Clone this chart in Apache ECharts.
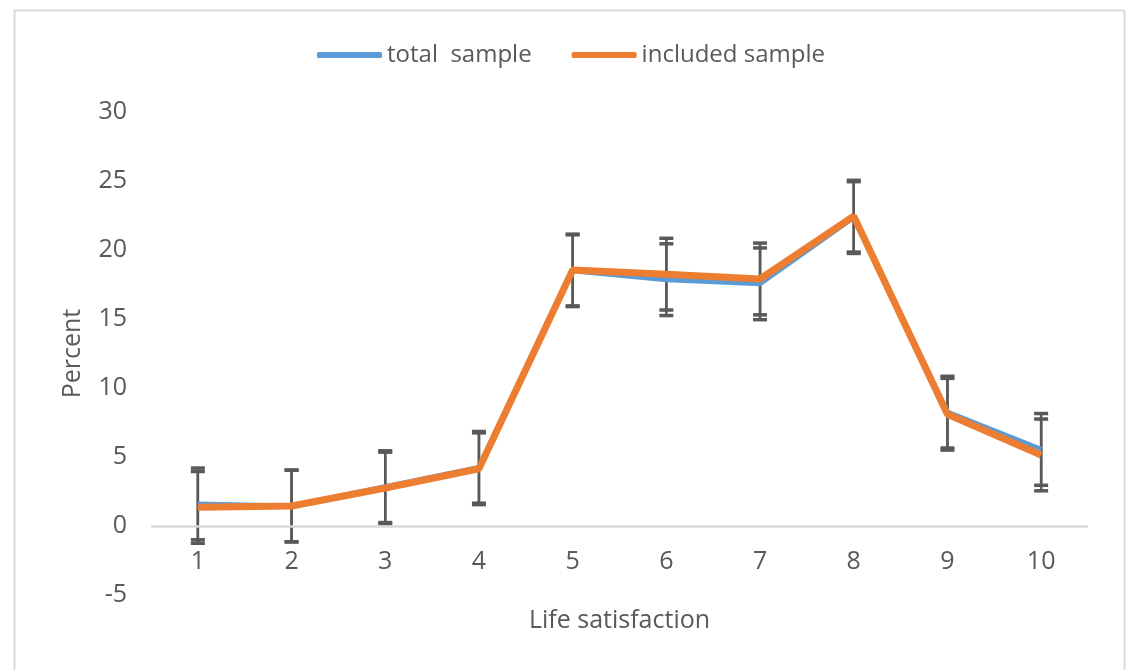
<!DOCTYPE html>
<html>
<head>
<meta charset="utf-8">
<script src="https://cdn.jsdelivr.net/npm/echarts@6/dist/echarts.min.js"></script>
<style>html,body{margin:0;padding:0;background:#fff}#c{width:1127px;height:670px}</style>
</head>
<body>
<div id="c"></div>
<script>
const categories = ['1','2','3','4','5','6','7','8','9','10'];
const totalSample = [1.6, 1.45, 2.85, 4.25, 18.5, 17.85, 17.55, 22.35, 8.25, 5.55];
const includedSample = [1.35, 1.45, 2.75, 4.15, 18.55, 18.25, 17.9, 22.45, 8.1, 5.15];
const totalErr = [2.6, 2.6, 2.6, 2.6, 2.6, 2.6, 2.6, 2.6, 2.6, 2.6];
const includedErr = [2.6, 2.6, 2.6, 2.6, 2.6, 2.6, 2.6, 2.6, 2.6, 2.6];
const yTicks = [-5, 0, 5, 10, 15, 20, 25, 30];

const FONT = 'Open Sans';
const TXT = '#595959';

function errData(vals, errs) {
  return vals.map((v, i) => [i, v - errs[i], v + errs[i]]);
}
function renderErr(params, api) {
  const xi = api.value(0);
  const lo = api.coord([xi, api.value(1)]);
  const hi = api.coord([xi, api.value(2)]);
  const hw = 7;
  const st = { stroke: '#595959', lineWidth: 2.5 };
  const cs = { stroke: '#595959', lineWidth: 3.5 };
  return {
    type: 'group',
    children: [
      { type: 'line', shape: { x1: lo[0], y1: lo[1], x2: hi[0], y2: hi[1] }, style: st },
      { type: 'line', shape: { x1: lo[0] - hw, y1: lo[1], x2: lo[0] + hw, y2: lo[1] }, style: cs },
      { type: 'line', shape: { x1: hi[0] - hw, y1: hi[1], x2: hi[0] + hw, y2: hi[1] }, style: cs }
    ]
  };
}

const chart = echarts.init(document.getElementById('c'), null, { renderer: 'canvas' });
chart.setOption({
  animation: false,
  backgroundColor: '#fff',
  graphic: [{
    type: 'rect', left: 12, top: 8, z: -10,
    shape: { width: 1110, height: 700 },
    style: { fill: 'none', stroke: '#d9d9d9', lineWidth: 2 }
  }],
  legend: {
    top: 38, left: 312,
    itemWidth: 65, itemHeight: 6, itemGap: 40,
    textStyle: { fontFamily: FONT, fontSize: 24, color: TXT },
    data: [
      { name: 'total  sample', icon: 'roundRect' },
      { name: 'included sample', icon: 'roundRect' }
    ]
  },
  grid: { left: 151, right: 39, top: 112, bottom: 75, containLabel: false, outerBoundsMode: 'none' },
  xAxis: {
    type: 'category',
    data: categories,
    boundaryGap: true,
    name: 'Life satisfaction',
    nameLocation: 'middle',
    nameGap: 13,
    nameMoveOverlap: false,
    nameTextStyle: { fontFamily: FONT, fontSize: 25, color: TXT },
    axisLine: { show: false },
    axisTick: { show: false },
    axisLabel: { margin: -46, fontFamily: FONT, fontSize: 25, color: TXT },
    splitLine: { show: false }
  },
  yAxis: {
    type: 'value',
    min: yTicks[0], max: yTicks[yTicks.length - 1], interval: 5,
    name: 'Percent',
    nameLocation: 'middle',
    nameGap: 66,
    nameTextStyle: { fontFamily: FONT, fontSize: 25, color: TXT },
    axisLine: { show: false },
    axisTick: { show: false },
    axisLabel: { margin: 24, fontFamily: FONT, fontSize: 25, color: TXT },
    splitLine: { show: false }
  },
  series: [
    {
      type: 'custom', name: 'errTotal', z: 1,
      renderItem: renderErr, encode: { x: 0, y: [1, 2] },
      data: errData(totalSample, totalErr),
      markLine: {
        silent: true, symbol: 'none', label: { show: false },
        lineStyle: { color: '#d9d9d9', width: 2.5, type: 'solid' },
        data: [{ yAxis: 0 }]
      }
    },
    {
      type: 'custom', name: 'errIncluded', z: 1,
      renderItem: renderErr, encode: { x: 0, y: [1, 2] },
      data: errData(includedSample, includedErr)
    },
    {
      type: 'line', name: 'total  sample', z: 3,
      data: totalSample, showSymbol: false, symbol: 'none',
      color: '#5B9BD5',
      lineStyle: { color: '#5B9BD5', width: 5 }
    },
    {
      type: 'line', name: 'included sample', z: 4,
      data: includedSample, showSymbol: false, symbol: 'none',
      color: '#ED7D31',
      lineStyle: { color: '#ED7D31', width: 7 }
    }
  ]
});
</script>
</body>
</html>
